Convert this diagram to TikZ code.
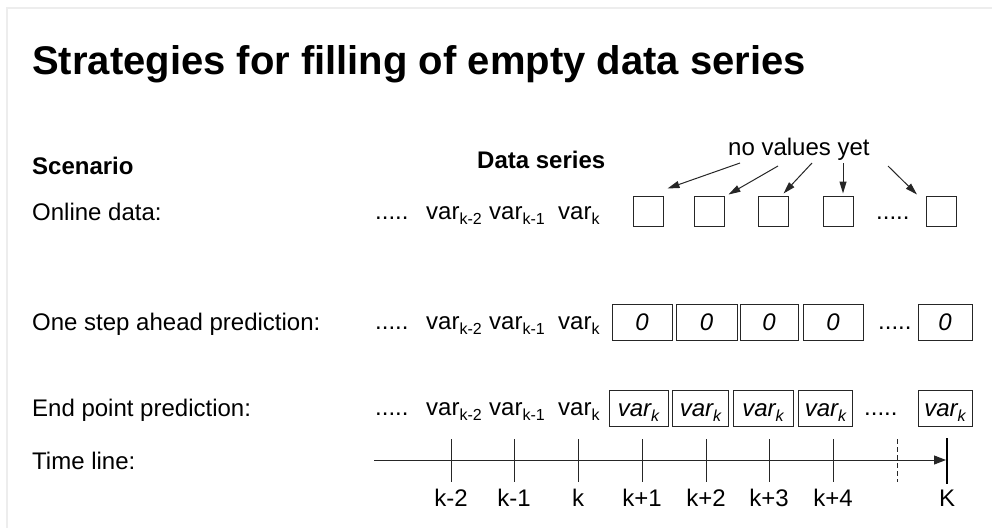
\documentclass[tikz,border=0pt]{standalone}
\usepackage{fontspec}
\setmainfont{Liberation Sans}
\usetikzlibrary{arrows.meta}
% variable name with a lowered index
\newcommand{\varsub}[1]{var\raisebox{-0.45ex}{\fontsize{16}{16}\selectfont #1}}
\begin{document}
\begin{tikzpicture}[x=1pt,y=-1pt,
  txt/.style={anchor=base west, inner sep=0, font=\fontsize{24}{28}\selectfont},
  head/.style={txt, font=\fontsize{24}{28}\selectfont\bfseries},
  emptybox/.style={draw=black!85, line width=1pt, inner sep=0, minimum width=30, minimum height=30},
  valbox/.style={draw=black!85, line width=1pt, inner sep=0, minimum height=36,
    text height=18, text depth=2, font=\fontsize{24}{28}\selectfont\itshape},
  note/.style={-{Triangle[length=12pt,width=7pt]}, line width=1pt, draw=black!85},
  tick/.style={line width=1pt, draw=black!85},
  ticklbl/.style={anchor=base, inner sep=0, font=\fontsize{24}{28}\selectfont}
]
\useasboundingbox (0,0) rectangle (992,528);
\draw[line width=2pt, draw=black!7] (992,8) -- (7,8) -- (7,528);

% title and column heads
\node[anchor=base west, inner sep=0, font=\fontsize{40}{48}\selectfont\bfseries] (title) at (32,74)
  {Strategies for filling of empty data series};
\node[head] (scen) at (32,174) {Scenario};
\node[head] (series) at (477,168) {Data series};
\node[txt] (novals) at (728,155) {no values yet};

% row 1: online data
\node[txt] (l1) at (32,220) {Online data:};
\node[txt] (d1) at (375,219) {.....};
\node[txt] (a1) at (426,219) {\varsub{k-2}};
\node[txt] (b1) at (489,219) {\varsub{k-1}};
\node[txt] (c1) at (558,219) {\varsub{k}};
\node[emptybox] (e1) at (648,211) {};
\node[emptybox] (e2) at (709,211) {};
\node[emptybox] (e3) at (773,211) {};
\node[emptybox] (e4) at (838,211) {};
\node[txt] (f1) at (876,219) {.....};
\node[emptybox] (e5) at (941.5,211) {};

\coordinate (t1) at (740,163);
\coordinate (t2) at (778,166);
\coordinate (t3) at (812,163);
\coordinate (t4) at (843,163);
\coordinate (t5) at (888,166);
\draw[note] (t1) -- ([shift={(4,-7)}]e1.north east);
\draw[note] (t2) -- ([shift={(4,-1)}]e2.north east);
\draw[note] (t3) -- ([shift={(-5,-2)}]e3.north east);
\draw[note] (t4) -- ([shift={(5,-2)}]e4.north);
\draw[note] (t5) -- ([shift={(-9,-1)}]e5.north west);

% row 2: one step ahead prediction
\node[txt] (l2) at (32,330) {One step ahead prediction:};
\node[txt] (d2) at (375,329) {.....};
\node[txt] (a2) at (426,329) {\varsub{k-2}};
\node[txt] (b2) at (489,329) {\varsub{k-1}};
\node[txt] (c2) at (558,329) {\varsub{k}};
\node[valbox, minimum width=60] (z1) at (642,322) {0};
\node[valbox, minimum width=61] (z2) at (706.5,322) {0};
\node[valbox, minimum width=58] (z3) at (769,322) {0};
\node[valbox, minimum width=60] (z4) at (833,322) {0};
\node[txt] (f2) at (878,329) {.....};
\node[valbox, minimum width=54] (z5) at (945,322) {0};

% row 3: end point prediction
\node[txt] (l3) at (32,416) {End point prediction:};
\node[txt] (d3) at (375,415) {.....};
\node[txt] (a3) at (426,415) {\varsub{k-2}};
\node[txt] (b3) at (489,415) {\varsub{k-1}};
\node[txt] (c3) at (558,415) {\varsub{k}};
\node[valbox, minimum width=59] (v1) at (638.5,408) {\varsub{k}};
\node[valbox, minimum width=56] (v2) at (700.5,408) {\varsub{k}};
\node[valbox, minimum width=60] (v3) at (763,408) {\varsub{k}};
\node[valbox, minimum width=54] (v4) at (825.5,408) {\varsub{k}};
\node[txt] (f3) at (864,415) {.....};
\node[valbox, minimum width=54] (v5) at (945,408) {\varsub{k}};

% time line
\node[txt] (l4) at (32,469) {Time line:};
\coordinate (tl0) at (374,460);
\coordinate (tlK) at (946,460);
\draw[tick, -{Triangle[length=12pt,width=9pt]}] (tl0) -- (tlK);
\foreach \x/\n/\s in {451/m2/k-2, 514/m1/k-1, 578/k0/k, 642/p1/k+1, 706/p2/k+2, 769/p3/k+3, 833/p4/k+4} {
  \draw[tick] (\x,439) -- (\x,482);
  \node[ticklbl] (lbl\n) at (\x,506) {\s};
}
\draw[tick, dashed, dash pattern=on 5pt off 3pt] (897,439) -- (897,482);
\draw[line width=2.5pt, draw=black] (947,438) -- (947,484);
\node[ticklbl] (lblK) at (947,506) {K};
\end{tikzpicture}
\end{document}
